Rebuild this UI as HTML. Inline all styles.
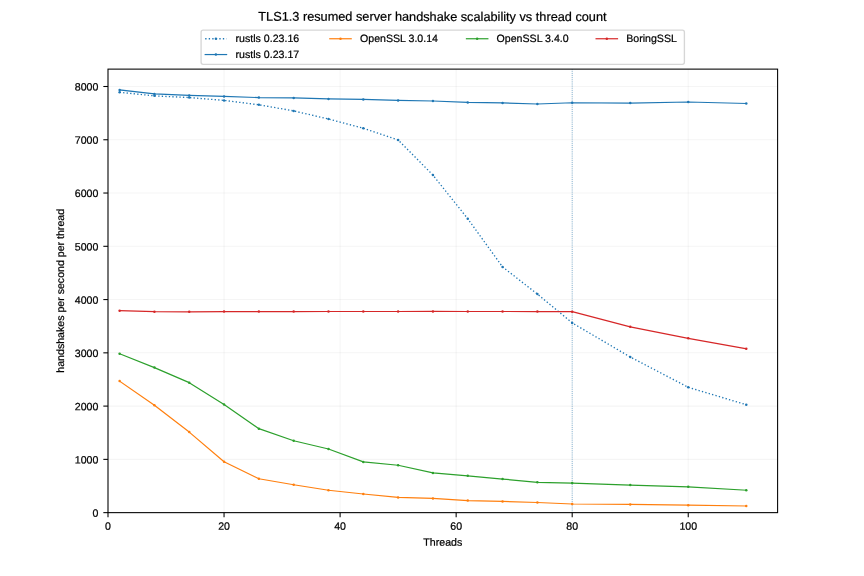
<!DOCTYPE html>
<html><head><meta charset="utf-8"><title>TLS1.3 resumed server handshake scalability vs thread count</title>
<style>html,body{margin:0;padding:0;background:#fff;overflow:hidden}svg{display:block;will-change:transform;transform:translateZ(0)}text{font-family:"Liberation Sans",sans-serif;fill:#000;stroke:#000;stroke-width:0.22px;stroke-linejoin:round;text-rendering:geometricPrecision}</style>
</head><body>
<svg width="864" height="576" viewBox="0 0 864 576">
<rect width="864" height="576" fill="#fff"/>
<g stroke="#b0b0b0" stroke-opacity="0.12" stroke-width="1.067" fill="none">
<path d="M108 512.64 V69.12"/>
<path d="M224.05 512.64 V69.12"/>
<path d="M340.1 512.64 V69.12"/>
<path d="M456.15 512.64 V69.12"/>
<path d="M572.19 512.64 V69.12"/>
<path d="M688.24 512.64 V69.12"/>
<path d="M108 512.64 H777.6"/>
<path d="M108 459.37 H777.6"/>
<path d="M108 406.1 H777.6"/>
<path d="M108 352.84 H777.6"/>
<path d="M108 299.57 H777.6"/>
<path d="M108 246.3 H777.6"/>
<path d="M108 193.03 H777.6"/>
<path d="M108 139.76 H777.6"/>
<path d="M108 86.5 H777.6"/>
</g>
<path d="M572.19 512.64 V69.12" stroke="#1f77b4" stroke-opacity="0.8" stroke-width="0.8" stroke-dasharray="0.8 1.32" fill="none"/>
<defs><clipPath id="c"><rect x="108" y="69.12" width="669.6" height="443.52"/></clipPath></defs>
<g clip-path="url(#c)">
<polyline points="119.6,92.3 154.42,95.87 189.23,97.58 224.05,100.4 258.86,104.77 293.68,110.89 328.49,118.99 363.31,128.26 398.12,139.98 432.94,175.08 467.75,218.76 502.56,266.91 537.38,294.08 572.19,322.9 630.22,356.99 688.24,387.3 746.27,404.72" fill="none" stroke="#1f77b4" stroke-width="1.333" stroke-linejoin="round" stroke-linecap="butt" stroke-dasharray="1.33 2.20"/>
<g fill="#1f77b4"><circle cx="119.6" cy="92.3" r="1.25"/><circle cx="154.42" cy="95.87" r="1.25"/><circle cx="189.23" cy="97.58" r="1.25"/><circle cx="224.05" cy="100.4" r="1.25"/><circle cx="258.86" cy="104.77" r="1.25"/><circle cx="293.68" cy="110.89" r="1.25"/><circle cx="328.49" cy="118.99" r="1.25"/><circle cx="363.31" cy="128.26" r="1.25"/><circle cx="398.12" cy="139.98" r="1.25"/><circle cx="432.94" cy="175.08" r="1.25"/><circle cx="467.75" cy="218.76" r="1.25"/><circle cx="502.56" cy="266.91" r="1.25"/><circle cx="537.38" cy="294.08" r="1.25"/><circle cx="572.19" cy="322.9" r="1.25"/><circle cx="630.22" cy="356.99" r="1.25"/><circle cx="688.24" cy="387.3" r="1.25"/><circle cx="746.27" cy="404.72" r="1.25"/></g>
<polyline points="119.6,89.91 154.42,93.95 189.23,95.45 224.05,96.4 258.86,97.58 293.68,97.9 328.49,98.91 363.31,99.39 398.12,100.4 432.94,100.98 467.75,102.42 502.56,102.96 537.38,104.02 572.19,102.74 630.22,103.12 688.24,102 746.27,103.49" fill="none" stroke="#1f77b4" stroke-width="1.2" stroke-linejoin="round" stroke-linecap="square"/>
<g fill="#1f77b4"><circle cx="119.6" cy="89.91" r="1.25"/><circle cx="154.42" cy="93.95" r="1.25"/><circle cx="189.23" cy="95.45" r="1.25"/><circle cx="224.05" cy="96.4" r="1.25"/><circle cx="258.86" cy="97.58" r="1.25"/><circle cx="293.68" cy="97.9" r="1.25"/><circle cx="328.49" cy="98.91" r="1.25"/><circle cx="363.31" cy="99.39" r="1.25"/><circle cx="398.12" cy="100.4" r="1.25"/><circle cx="432.94" cy="100.98" r="1.25"/><circle cx="467.75" cy="102.42" r="1.25"/><circle cx="502.56" cy="102.96" r="1.25"/><circle cx="537.38" cy="104.02" r="1.25"/><circle cx="572.19" cy="102.74" r="1.25"/><circle cx="630.22" cy="103.12" r="1.25"/><circle cx="688.24" cy="102" r="1.25"/><circle cx="746.27" cy="103.49" r="1.25"/></g>
<polyline points="119.6,381.12 154.42,405.25 189.23,432.1 224.05,461.77 258.86,478.76 293.68,484.73 328.49,490.27 363.31,494 398.12,497.41 432.94,498.42 467.75,500.6 502.56,501.4 537.38,502.52 572.19,504.01 630.22,504.38 688.24,505.18 746.27,505.98" fill="none" stroke="#ff7f0e" stroke-width="1.2" stroke-linejoin="round" stroke-linecap="square"/>
<g fill="#ff7f0e"><circle cx="119.6" cy="381.12" r="1.25"/><circle cx="154.42" cy="405.25" r="1.25"/><circle cx="189.23" cy="432.1" r="1.25"/><circle cx="224.05" cy="461.77" r="1.25"/><circle cx="258.86" cy="478.76" r="1.25"/><circle cx="293.68" cy="484.73" r="1.25"/><circle cx="328.49" cy="490.27" r="1.25"/><circle cx="363.31" cy="494" r="1.25"/><circle cx="398.12" cy="497.41" r="1.25"/><circle cx="432.94" cy="498.42" r="1.25"/><circle cx="467.75" cy="500.6" r="1.25"/><circle cx="502.56" cy="501.4" r="1.25"/><circle cx="537.38" cy="502.52" r="1.25"/><circle cx="572.19" cy="504.01" r="1.25"/><circle cx="630.22" cy="504.38" r="1.25"/><circle cx="688.24" cy="505.18" r="1.25"/><circle cx="746.27" cy="505.98" r="1.25"/></g>
<polyline points="119.6,353.74 154.42,367.59 189.23,382.67 224.05,404.4 258.86,428.69 293.68,440.73 328.49,448.98 363.31,461.88 398.12,465.23 432.94,472.9 467.75,475.78 502.56,479.03 537.38,482.28 572.19,483.08 630.22,485.1 688.24,486.81 746.27,490.21" fill="none" stroke="#2ca02c" stroke-width="1.2" stroke-linejoin="round" stroke-linecap="square"/>
<g fill="#2ca02c"><circle cx="119.6" cy="353.74" r="1.25"/><circle cx="154.42" cy="367.59" r="1.25"/><circle cx="189.23" cy="382.67" r="1.25"/><circle cx="224.05" cy="404.4" r="1.25"/><circle cx="258.86" cy="428.69" r="1.25"/><circle cx="293.68" cy="440.73" r="1.25"/><circle cx="328.49" cy="448.98" r="1.25"/><circle cx="363.31" cy="461.88" r="1.25"/><circle cx="398.12" cy="465.23" r="1.25"/><circle cx="432.94" cy="472.9" r="1.25"/><circle cx="467.75" cy="475.78" r="1.25"/><circle cx="502.56" cy="479.03" r="1.25"/><circle cx="537.38" cy="482.28" r="1.25"/><circle cx="572.19" cy="483.08" r="1.25"/><circle cx="630.22" cy="485.1" r="1.25"/><circle cx="688.24" cy="486.81" r="1.25"/><circle cx="746.27" cy="490.21" r="1.25"/></g>
<polyline points="119.6,310.65 154.42,311.66 189.23,311.82 224.05,311.61 258.86,311.55 293.68,311.55 328.49,311.5 363.31,311.5 398.12,311.5 432.94,311.39 467.75,311.5 502.56,311.5 537.38,311.55 572.19,311.66 630.22,326.84 688.24,338.29 746.27,348.68" fill="none" stroke="#d62728" stroke-width="1.2" stroke-linejoin="round" stroke-linecap="square"/>
<g fill="#d62728"><circle cx="119.6" cy="310.65" r="1.25"/><circle cx="154.42" cy="311.66" r="1.25"/><circle cx="189.23" cy="311.82" r="1.25"/><circle cx="224.05" cy="311.61" r="1.25"/><circle cx="258.86" cy="311.55" r="1.25"/><circle cx="293.68" cy="311.55" r="1.25"/><circle cx="328.49" cy="311.5" r="1.25"/><circle cx="363.31" cy="311.5" r="1.25"/><circle cx="398.12" cy="311.5" r="1.25"/><circle cx="432.94" cy="311.39" r="1.25"/><circle cx="467.75" cy="311.5" r="1.25"/><circle cx="502.56" cy="311.5" r="1.25"/><circle cx="537.38" cy="311.55" r="1.25"/><circle cx="572.19" cy="311.66" r="1.25"/><circle cx="630.22" cy="326.84" r="1.25"/><circle cx="688.24" cy="338.29" r="1.25"/><circle cx="746.27" cy="348.68" r="1.25"/></g>
</g>
<rect x="108" y="69.12" width="669.6" height="443.52" fill="none" stroke="#000" stroke-width="1.067" stroke-linejoin="miter"/>
<g stroke="#000" stroke-width="1.067" fill="none">
<path d="M108 512.64 v4.67"/>
<path d="M224.05 512.64 v4.67"/>
<path d="M340.1 512.64 v4.67"/>
<path d="M456.15 512.64 v4.67"/>
<path d="M572.19 512.64 v4.67"/>
<path d="M688.24 512.64 v4.67"/>
<path d="M108 512.64 h-4.67"/>
<path d="M108 459.37 h-4.67"/>
<path d="M108 406.1 h-4.67"/>
<path d="M108 352.84 h-4.67"/>
<path d="M108 299.57 h-4.67"/>
<path d="M108 246.3 h-4.67"/>
<path d="M108 193.03 h-4.67"/>
<path d="M108 139.76 h-4.67"/>
<path d="M108 86.5 h-4.67"/>
</g>
<g font-size="10.6">
<text x="108" y="529.8" text-anchor="middle" transform="rotate(0.03 108 529.8)">0</text>
<text x="224.05" y="529.8" text-anchor="middle" transform="rotate(0.03 224.05 529.8)">20</text>
<text x="340.1" y="529.8" text-anchor="middle" transform="rotate(0.03 340.1 529.8)">40</text>
<text x="456.15" y="529.8" text-anchor="middle" transform="rotate(0.03 456.15 529.8)">60</text>
<text x="572.19" y="529.8" text-anchor="middle" transform="rotate(0.03 572.19 529.8)">80</text>
<text x="688.24" y="529.8" text-anchor="middle" transform="rotate(0.03 688.24 529.8)">100</text>
<text x="98.4" y="516.74" text-anchor="end" transform="rotate(0.03 98.4 516.74)">0</text>
<text x="98.4" y="463.47" text-anchor="end" transform="rotate(0.03 98.4 463.47)">1000</text>
<text x="98.4" y="410.2" text-anchor="end" transform="rotate(0.03 98.4 410.2)">2000</text>
<text x="98.4" y="356.94" text-anchor="end" transform="rotate(0.03 98.4 356.94)">3000</text>
<text x="98.4" y="303.67" text-anchor="end" transform="rotate(0.03 98.4 303.67)">4000</text>
<text x="98.4" y="250.4" text-anchor="end" transform="rotate(0.03 98.4 250.4)">5000</text>
<text x="98.4" y="197.13" text-anchor="end" transform="rotate(0.03 98.4 197.13)">6000</text>
<text x="98.4" y="143.86" text-anchor="end" transform="rotate(0.03 98.4 143.86)">7000</text>
<text x="98.4" y="90.6" text-anchor="end" transform="rotate(0.03 98.4 90.6)">8000</text>
</g>
<text x="442.8" y="545.75" text-anchor="middle" font-size="10.6" transform="rotate(0.03 442.8 545.75)">Threads</text>
<text transform="translate(64.2 290.8) rotate(-90)" font-size="10.6" text-anchor="middle">handshakes per second per thread</text>
<text x="432.46" y="20.9" font-size="12.745" text-anchor="middle" transform="rotate(0.03 432 20.9)">TLS1.3 resumed server handshake scalability vs thread count</text>
<rect x="201.1" y="30.15" width="483.3" height="34.25" rx="2.1" ry="2.1" fill="#fff" fill-opacity="0.8" stroke="#ccc" stroke-opacity="0.8" stroke-width="1.333"/>
<path d="M205.2 38.75 h21.4" stroke="#1f77b4" stroke-width="1.333" stroke-linecap="butt" fill="none" stroke-dasharray="1.33 2.20"/>
<circle cx="215.9" cy="38.75" r="1.25" fill="#1f77b4"/>
<path d="M205.2 54.55 h21.4" stroke="#1f77b4" stroke-width="1.2" stroke-linecap="square" fill="none"/>
<circle cx="215.9" cy="54.55" r="1.25" fill="#1f77b4"/>
<path d="M329.8 38.75 h21.4" stroke="#ff7f0e" stroke-width="1.2" stroke-linecap="square" fill="none"/>
<circle cx="340.5" cy="38.75" r="1.25" fill="#ff7f0e"/>
<path d="M466.45 38.75 h21.4" stroke="#2ca02c" stroke-width="1.2" stroke-linecap="square" fill="none"/>
<circle cx="477.15" cy="38.75" r="1.25" fill="#2ca02c"/>
<path d="M596.1 38.75 h21.4" stroke="#d62728" stroke-width="1.2" stroke-linecap="square" fill="none"/>
<circle cx="606.8" cy="38.75" r="1.25" fill="#d62728"/>
<g font-size="10.6">
<text x="235.6" y="41.9" transform="rotate(0.03 235.6 41.9)">rustls 0.23.16</text>
<text x="235.6" y="57.9" transform="rotate(0.03 235.6 57.9)">rustls 0.23.17</text>
<text x="360" y="41.9" transform="rotate(0.03 360 41.9)">OpenSSL 3.0.14</text>
<text x="496.6" y="41.9" transform="rotate(0.03 496.6 41.9)">OpenSSL 3.4.0</text>
<text x="626.2" y="41.9" transform="rotate(0.03 626.2 41.9)">BoringSSL</text>
</g>
</svg></body></html>
